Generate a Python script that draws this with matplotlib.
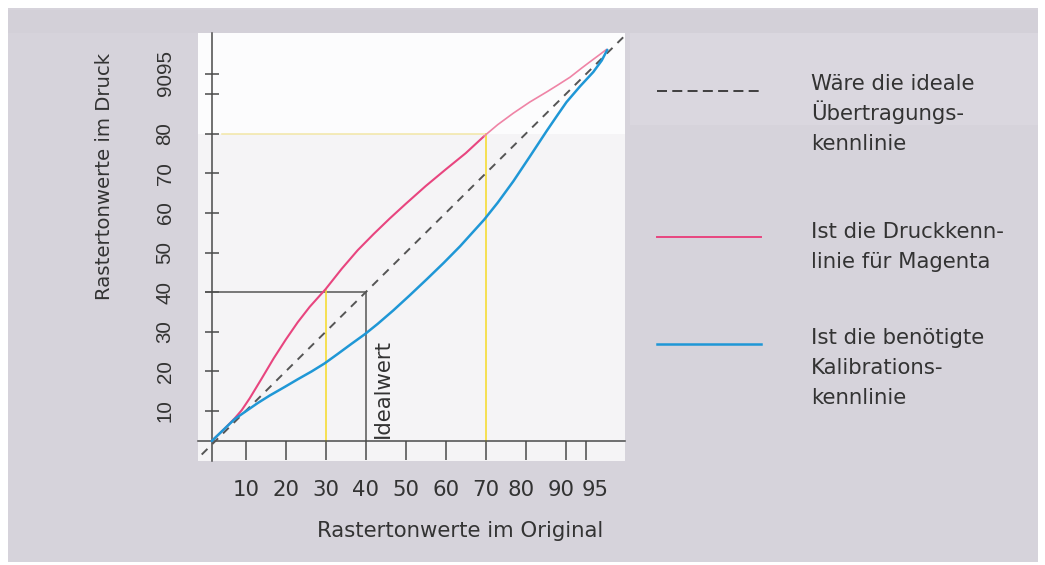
import matplotlib
matplotlib.use("Agg")
import matplotlib.pyplot as plt
from matplotlib.patches import Rectangle
from matplotlib.lines import Line2D
from matplotlib.transforms import ScaledTranslation

plt.rcParams['font.family'] = ['DejaVu Sans']
plt.rcParams['lines.scale_dashes'] = False

# ---- data ----
tick_values = [10, 20, 30, 40, 50, 60, 70, 80, 90, 95]
tick_labels = ["10", "20", "30", "40", "50", "60", "70", "80", "90", "95"]

ideal_x = [-1.0, 104.5]
ideal_y = [-1.0, 104.5]

magenta_x = [1.5, 4.8, 7.3, 9, 11, 14, 17, 20, 23, 26, 30, 34, 38, 42, 46, 50, 55, 60, 65, 69.6,
             73, 76.9, 81, 85.3, 88, 91.1, 94, 96.1, 98.5, 100.2]
magenta_y = [2.4, 5.6, 8.2, 10.2, 13.2, 18.2, 23.3, 28.0, 32.4, 36.3, 40.8, 45.9, 50.6, 54.7, 58.6, 62.3, 66.8, 71.0, 75.1, 79.4,
             82.3, 85.2, 88.0, 90.6, 92.3, 94.3, 96.6, 98.2, 100.0, 101.3]

blue_x = [1.5, 4.8, 7.3, 10, 13, 16, 19.8, 23, 26.5, 29.7, 33, 36.5, 39.8, 43, 46.9, 51, 55.3, 59.5, 63.6, 67, 69.6,
          73, 76.9, 81, 85.3, 88, 90.2, 93.6, 96.9, 99, 100.4]
blue_y = [2.4, 5.6, 8.0, 9.9, 12.0, 13.9, 16.1, 18.0, 20.0, 22.0, 24.4, 27.0, 29.4, 32.0, 35.4, 39.2, 43.3, 47.4, 51.6, 55.4, 58.3,
          62.6, 68.0, 74.2, 80.8, 84.8, 88.0, 92.0, 95.6, 98.5, 101.2]

ideal_box_x = [-0.2, 40, 40]
ideal_box_y = [40, 40, 2.4]

yellow_v1_x = [30, 30]
yellow_v1_y = [2.4, 40.5]
yellow_v2_x = [70, 70]
yellow_v2_y = [2.4, 80]
yellow_h_x = [4, 70]
yellow_h_y = [80, 80]

legend_entries = [
    ["Wäre die ideale", "Übertragungs-", "kennlinie"],
    ["Ist die Druckkenn-", "linie für Magenta"],
    ["Ist die benötigte", "Kalibrations-", "kennlinie"],
]

# ---- figure ----
W, H = 1045, 565
fig = plt.figure(figsize=(W / 100, H / 100), dpi=100, facecolor="white")

def fx(px):
    return px / W

def fy(py):
    return 1 - py / H

# page background
fig.patches.append(Rectangle((fx(8), fy(562)), fx(1038) - fx(8), fy(8) - fy(562),
                             transform=fig.transFigure, facecolor="#d6d3db", edgecolor="none", zorder=-10))
fig.patches.append(Rectangle((fx(8), fy(33)), fx(1038) - fx(8), fy(10) - fy(33),
                             transform=fig.transFigure, facecolor="#d3d0d8", edgecolor="none", zorder=-9))
fig.patches.append(Rectangle((fx(630), fy(125)), fx(1038) - fx(630), fy(33) - fy(125),
                             transform=fig.transFigure, facecolor="#dad7df", edgecolor="none", zorder=-9))

TXT = "#333333"
AX = "#4a4a4a"
FS = 15.3

ax = fig.add_axes([fx(198), fy(461), fx(625) - fx(198), fy(33) - fy(461)])
ax.set_facecolor("#f5f4f6")
ax.set_xlim(-1.925, 104.825)
ax.set_ylim(-2.63, 105.45)
ax.axhspan(80, 106, color="#fcfcfd", zorder=0, lw=0)

for s in ["top", "right"]:
    ax.spines[s].set_visible(False)
ax.spines["left"].set_position(("data", 1.5))
ax.spines["bottom"].set_position(("data", 2.4))
for s in ["left", "bottom"]:
    ax.spines[s].set_color(AX)
    ax.spines[s].set_linewidth(1.1)

ax.set_xticks(tick_values)
ax.set_xticklabels(tick_labels)
ax.set_yticks(tick_values)
ax.set_yticklabels(tick_labels)
ax.tick_params(axis="x", direction="out", length=13.7, width=1.1, color=AX,
               pad=14, labelsize=FS, labelcolor=TXT)
ax.tick_params(axis="y", direction="inout", length=9.4, width=1.1, color=AX,
               pad=22, labelsize=14.8, labelcolor=TXT, labelrotation=90)

x_shift = {"80": -0.05, "90": -0.05, "95": 0.09}
for lab in ax.get_xticklabels():
    t = lab.get_text()
    if t in x_shift:
        lab.set_transform(lab.get_transform() + ScaledTranslation(x_shift[t], 0, fig.dpi_scale_trans))

y_shift = {"90": 0.10, "95": 0.13}
for lab in ax.get_yticklabels():
    lab.set_va("center")
    lab.set_family(["Liberation Sans", "DejaVu Sans"])
    t = lab.get_text()
    if t in y_shift:
        lab.set_transform(lab.get_transform() + ScaledTranslation(0, y_shift[t], fig.dpi_scale_trans))

# guide lines
ax.plot(ideal_box_x, ideal_box_y, color="#555555", lw=1.1, zorder=2, solid_capstyle="butt")
ax.plot(yellow_h_x, yellow_h_y, color="#f2e6a6", lw=1.1, zorder=2)
ax.plot(yellow_v1_x, yellow_v1_y, color="#f5dc35", lw=1.2, zorder=2)
ax.plot(yellow_v2_x, yellow_v2_y, color="#f5dc35", lw=1.2, zorder=2)

# curves
ax.plot(ideal_x, ideal_y, color="#555555", lw=1.4, dashes=(5.8, 5.0), zorder=3)
split = magenta_x.index(69.6)
ax.plot(magenta_x[:split + 1], magenta_y[:split + 1], color="#e8457f", lw=1.5, zorder=4,
        solid_joinstyle="round", solid_capstyle="round")
ax.plot(magenta_x[split:], magenta_y[split:], color="#ef84a6", lw=1.2, zorder=4,
        solid_joinstyle="round", solid_capstyle="round")
ax.plot(blue_x, blue_y, color="#1f97d6", lw=1.8, zorder=4,
        solid_joinstyle="round", solid_capstyle="round")

ax.text(44.3, 3.3, "Idealwert", rotation=90, ha="center", va="bottom",
        fontsize=FS, color=TXT, zorder=5)

# axis titles
fig.text(fx(460), fy(537), "Rastertonwerte im Original", ha="center", va="baseline",
         fontsize=FS, color=TXT)
fig.text(fx(105), fy(176), "Rastertonwerte im Druck", ha="center", va="center",
         rotation=90, fontsize=14.2, color=TXT)

# legend
fig.add_artist(Line2D([fx(657), fx(761)], [fy(91), fy(91)], transform=fig.transFigure,
                      color="#333333", lw=1.3, dashes=(7.2, 3.8)))
fig.add_artist(Line2D([fx(657), fx(761)], [fy(237), fy(237)], transform=fig.transFigure,
                      color="#e8457f", lw=1.4))
fig.add_artist(Line2D([fx(657), fx(761)], [fy(344), fy(344)], transform=fig.transFigure,
                      color="#1f97d6", lw=1.8))

line_centers = [[83, 113, 143], [230, 260], [337, 367, 397]]
for entry, centers in zip(legend_entries, line_centers):
    for line, cy in zip(entry, centers):
        fig.text(fx(811), fy(cy + 7.5), line, ha="left", va="baseline",
                 fontsize=FS, color=TXT)

fig.savefig("out.png", dpi=100, facecolor=fig.get_facecolor())
